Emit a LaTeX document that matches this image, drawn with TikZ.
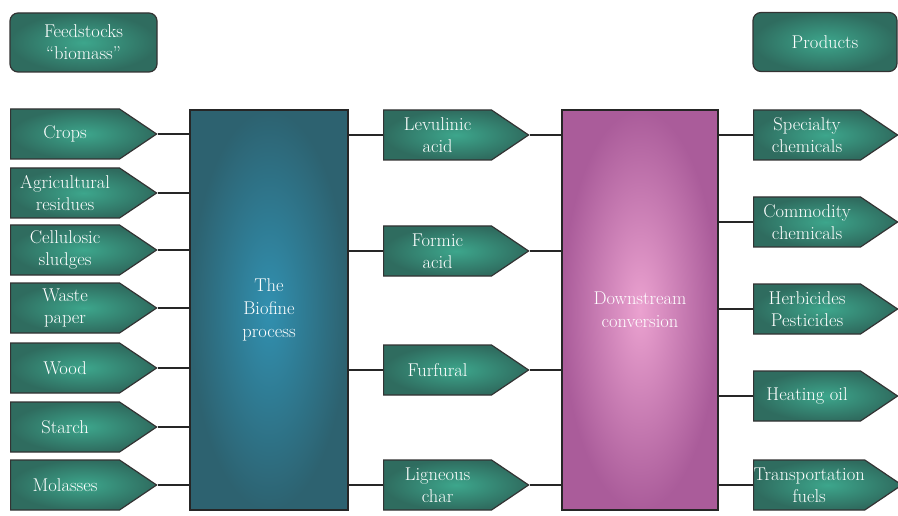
\documentclass[tikz,border=0pt]{standalone}
\usepackage{tikz}
\usetikzlibrary{shapes.symbols}
\definecolor{tealout}{HTML}{2F6C5F}
\definecolor{tealin}{HTML}{3DA68C}
\definecolor{blueout}{HTML}{2D6270}
\definecolor{bluein}{HTML}{3190B0}
\definecolor{pinkout}{HTML}{AA5C9A}
\definecolor{pinkin}{HTML}{EBA2D0}
\tikzset{
  feed/.style={signal,signal to=east,signal pointer angle=68,draw=black!80,line width=1.2pt,
    shading=radial,inner color=tealin,outer color=tealout,text=white,
    minimum width=146pt,minimum height=50pt,inner sep=0pt,anchor=west,align=center,
    font=\fontsize{18.5}{22}\selectfont},                     % signal arrow box
  hdr/.style={draw=black!80,line width=1.2pt,rounded corners=8pt,shading=radial,
    inner color=tealin,outer color=tealout,text=white,minimum height=59pt,
    align=center,font=\fontsize{18.5}{22}\selectfont},        % column header
  proc/.style={draw=black!85,line width=1.6pt,minimum width=158pt,minimum height=400pt,
    text=white,align=center,font=\fontsize{18.5}{23}\selectfont},% big process box
  link/.style={black!85,line width=1.5pt},
}

\begin{document}
\begin{tikzpicture}[x=1pt,y=-1pt]
  \useasboundingbox (0,0) rectangle (898,516);
  % headers
  \node[hdr,minimum width=147pt] (hdrfeed) at (83.5,42.5) {Feedstocks\\``biomass''};
  \node[hdr,minimum width=144pt] (hdrprod) at (825,42) {Products};
  % process boxes
  \node[proc,shading=radial,inner color=bluein,outer color=blueout] (biofine) at (269,310) {The\\Biofine\\process};
  \node[proc,minimum width=156pt,shading=radial,inner color=pinkin,outer color=pinkout] (downstream) at (640,310) {Downstream\\conversion};
  % feedstocks
  \foreach \n/\y/\t in {crops/134/Crops,agri/193/{Agricultural\\residues},cellu/250/{Cellulosic\\sludges},
      waste/308/{Waste\\paper},wood/368/Wood,starch/427/Starch,molasses/485/Molasses}{
    \node[feed] (\n) at (10,\y) {\t};
    \draw[link] (\n.east) -- (\n.east -| biofine.west);
  }
  % intermediates
  \foreach \n/\y/\t in {levulinic/135/{Levulinic\\acid},formic/251/{Formic\\acid},furfural/370/Furfural,
      char/485/{Ligneous\\char}}{
    \node[feed,minimum width=145pt] (\n) at (383,\y) {\t};
    \draw[link] (\n.west) -- (\n.west -| biofine.east);
    \draw[link] (\n.east) -- (\n.east -| downstream.west);
  }
  % products
  \foreach \n/\y/\t in {specialty/135/{Specialty\\chemicals},commodity/222/{Commodity\\chemicals},
      herbicides/309/{Herbicides\\Pesticides},heating/396/{Heating oil},transport/485/{Transportation\\fuels}}{
    \node[feed,minimum width=144pt] (\n) at (753,\y) {\t};
    \draw[link] (\n.west) -- (\n.west -| downstream.east);
  }
\end{tikzpicture}
\end{document}
